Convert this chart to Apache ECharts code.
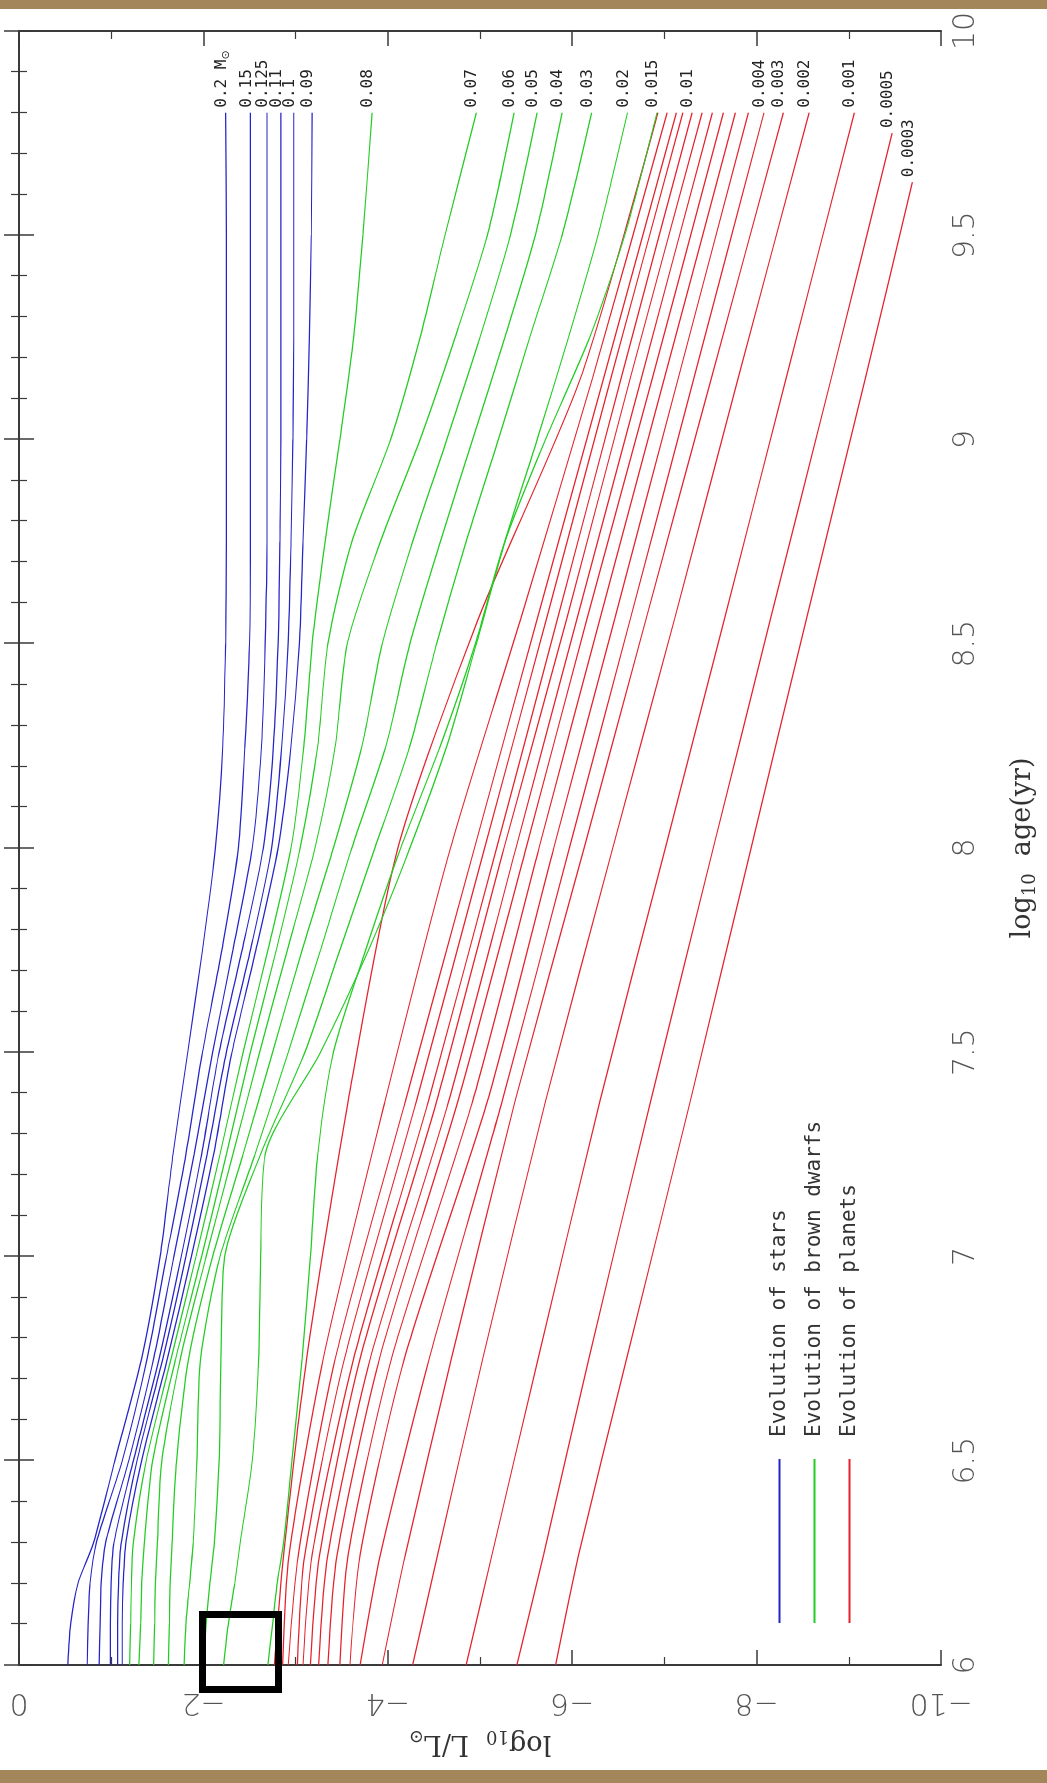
<!DOCTYPE html>
<html><head><meta charset="utf-8">
<script src="https://cdn.jsdelivr.net/npm/echarts@6/dist/echarts.min.js"></script>
<style>
html,body{margin:0;padding:0;width:1047px;height:1783px;overflow:hidden;background:#fff;}
#chart{position:absolute;left:0;top:0;width:1783px;height:1047px;transform-origin:0 0;transform:translateY(1783px) rotate(-90deg);}
.band{position:absolute;left:0;width:1047px;background:#a38659;}
#box{position:absolute;left:199px;top:1611px;width:83px;height:82px;border:7px solid #000;box-sizing:border-box;}
</style></head><body>
<div id="chart"></div>
<div class="band" style="top:0;height:9px"></div>
<div class="band" style="top:1770px;height:13px"></div>
<div id="box"></div>
<script>
// log10 age (yr) sample points shared by stars and brown dwarfs
const ages = [6.0,6.1,6.2,6.3,6.5,6.75,7.0,7.25,7.5,7.75,8.0,8.25,8.5,8.75,9.0,9.25,9.5,9.8];

// Stars (blue): log10 L/Lsun
const starLabels = ['0.2','0.15','0.125','0.11','0.1','0.09'];
const starL = [
  [-0.53,-0.56,-0.64,-0.81,-1.04,-1.33,-1.53,-1.67,-1.83,-1.99,-2.13,-2.21,-2.24,-2.25,-2.25,-2.25,-2.25,-2.24],
  [-0.74,-0.75,-0.77,-0.84,-1.12,-1.39,-1.6,-1.81,-1.99,-2.2,-2.38,-2.45,-2.5,-2.51,-2.51,-2.51,-2.51,-2.51],
  [-0.87,-0.88,-0.89,-0.94,-1.19,-1.46,-1.68,-1.9,-2.1,-2.32,-2.53,-2.63,-2.67,-2.69,-2.69,-2.69,-2.69,-2.69],
  [-0.99,-0.99,-1.0,-1.03,-1.24,-1.52,-1.76,-1.98,-2.17,-2.42,-2.65,-2.76,-2.81,-2.83,-2.84,-2.84,-2.84,-2.84],
  [-1.07,-1.07,-1.08,-1.11,-1.28,-1.56,-1.81,-2.04,-2.25,-2.51,-2.74,-2.85,-2.92,-2.95,-2.97,-2.98,-2.98,-2.98],
  [-1.12,-1.12,-1.13,-1.16,-1.33,-1.61,-1.87,-2.11,-2.31,-2.57,-2.81,-2.95,-3.04,-3.08,-3.12,-3.15,-3.17,-3.18]
];

// Brown dwarfs (green)
const dwarfLabels = ['0.08','0.07','0.06','0.05','0.04','0.03','0.02','0.015'];
const dwarfL = [
  [-1.2,-1.21,-1.22,-1.24,-1.38,-1.65,-1.92,-2.18,-2.43,-2.7,-2.95,-3.09,-3.18,-3.32,-3.48,-3.63,-3.73,-3.83],
  [-1.3,-1.32,-1.33,-1.36,-1.45,-1.7,-1.98,-2.25,-2.51,-2.79,-3.05,-3.24,-3.35,-3.61,-4.03,-4.35,-4.62,-4.96],
  [-1.46,-1.47,-1.48,-1.5,-1.55,-1.75,-2.03,-2.32,-2.61,-2.91,-3.21,-3.43,-3.56,-3.92,-4.35,-4.73,-5.08,-5.37],
  [-1.62,-1.63,-1.64,-1.66,-1.71,-1.84,-2.1,-2.43,-2.75,-3.07,-3.41,-3.72,-3.94,-4.27,-4.64,-5.0,-5.33,-5.62],
  [-1.79,-1.81,-1.85,-1.89,-1.93,-1.97,-2.18,-2.56,-2.92,-3.27,-3.61,-3.98,-4.24,-4.57,-4.92,-5.27,-5.6,-5.89],
  [-2.0,-2.03,-2.07,-2.12,-2.17,-2.19,-2.23,-2.62,-3.1,-3.48,-3.86,-4.24,-4.53,-4.85,-5.2,-5.54,-5.89,-6.21],
  [-2.22,-2.27,-2.34,-2.4,-2.53,-2.6,-2.62,-2.67,-3.27,-3.79,-4.24,-4.64,-4.96,-5.27,-5.62,-5.96,-6.28,-6.6],
  [-2.7,-2.75,-2.8,-2.87,-2.96,-3.07,-3.16,-3.24,-3.41,-3.76,-4.14,-4.57,-4.95,-5.27,-5.71,-6.19,-6.57,-6.92]
];

// Planets (red)
const planetAges = [6.0,6.27,6.75,7.38,8.0,8.56,9.15,9.8];
const planetEndAges = [9.8,9.8,9.8,9.8,9.8,9.8,9.8,9.8,9.8,9.8,9.8,9.8,9.8,9.8,9.75,9.63];
const planetLabels = ['','','','','0.01','','','','','','0.004','0.003','0.002','0.001','0.0005','0.0003'];
const planetL = [
  [-2.77,-2.87,-3.12,-3.57,-4.11,-4.98,-6.09,-6.93],
  [-2.86,-2.93,-3.3,-3.97,-4.68,-5.44,-6.22,-7.03],
  [-2.92,-3.03,-3.43,-4.19,-4.94,-5.62,-6.34,-7.13],
  [-3.02,-3.1,-3.53,-4.31,-5.05,-5.72,-6.42,-7.2],
  [-3.08,-3.18,-3.63,-4.44,-5.18,-5.84,-6.53,-7.3],
  [-3.16,-3.26,-3.7,-4.53,-5.26,-5.94,-6.63,-7.41],
  [-3.25,-3.35,-3.81,-4.66,-5.39,-6.05,-6.75,-7.52],
  [-3.35,-3.45,-3.91,-4.76,-5.5,-6.16,-6.87,-7.64],
  [-3.48,-3.57,-4.04,-4.92,-5.64,-6.3,-7.0,-7.77],
  [-3.59,-3.7,-4.18,-5.08,-5.8,-6.46,-7.15,-7.91],
  [-3.7,-3.92,-4.45,-5.24,-5.97,-6.63,-7.32,-8.08],
  [-3.94,-4.19,-4.69,-5.38,-6.13,-6.8,-7.51,-8.29],
  [-4.27,-4.54,-5.03,-5.71,-6.44,-7.11,-7.8,-8.57],
  [-4.85,-5.13,-5.63,-6.3,-7.01,-7.65,-8.32,-9.06],
  [-5.4,-5.69,-6.18,-6.85,-7.53,-8.15,-8.81,-9.47],
  [-5.82,-6.07,-6.59,-7.28,-7.94,-8.54,-9.18,-9.69]
];

const legendNames = ['Evolution of stars','Evolution of brown dwarfs','Evolution of planets'];
const colors = ['#2424c8','#22cc22','#e5222c'];

const labelFont = {fontFamily:'DejaVu Sans Mono', fontSize:16, color:'#222'};

function makeSeries(name, color, xs, ys, label, isFirstStar, smooth){
  const data = xs.map((a,i)=>[a, ys[i]]);
  return {
    type:'line', name:name, data:data, symbol:'none', showSymbol:false, smooth:smooth,
    lineStyle:{color:color, width:1.2}, itemStyle:{color:color},
    z: 3,
    endLabel:{
      show: label !== '',
      formatter: isFirstStar ? label + ' {m|M}{s|⊙}' : label,
      distance:5, offset:[0,-4],
      ...labelFont,
      rich:{ m:{fontFamily:'DejaVu Sans Mono', fontSize:16, color:'#222'},
             s:{fontFamily:'DejaVu Sans', fontSize:11, color:'#222', padding:[9,0,0,0]} }
    }
  };
}

const series = [];
planetL.forEach((ys,k)=>{
  const xs = planetAges.slice(0, planetAges.length-1).concat([planetEndAges[k]]);
  series.push(makeSeries(legendNames[2], colors[2], xs, ys, planetLabels[k], false, 0.25));
});
dwarfL.forEach((ys,k)=>series.push(makeSeries(legendNames[1], colors[1], ages, ys, dwarfLabels[k], false, 0.25)));
starL.forEach((ys,k)=>series.push(makeSeries(legendNames[0], colors[0], ages, ys, starLabels[k], k===0, 0.25)));

const axisCol = '#3a3a3a';
const tickCommon = {
  axisLine:{show:true, lineStyle:{color:axisCol, width:2}},
  axisTick:{show:true, inside:true, length:15, lineStyle:{color:axisCol, width:1.5}},
  splitLine:{show:false}
};
const tickFont = {fontFamily:'DejaVu Sans', fontWeight:200, fontSize:30, color:'#555'};
const titleRich = {
  a:{fontFamily:'DejaVu Serif', fontSize:27, color:'#333'},
  b:{fontFamily:'DejaVu Serif', fontSize:18, color:'#333', padding:[14,0,0,0]}
};

const chart = echarts.init(document.getElementById('chart'), null, {width:1783, height:1047});
chart.setOption({
  animation:false,
  backgroundColor:'#ffffff',
  grid:{left:118, right:31, top:19, bottom:106, containLabel:false},
  legend:{
    data:legendNames, orient:'vertical', left:159, top:769, padding:0,
    itemWidth:164, itemHeight:14, itemGap:14, selectedMode:false,
    itemStyle:{opacity:0},
    textStyle:{fontFamily:'DejaVu Sans Mono', fontSize:21, color:'#333', padding:[0,0,0,17]}
  },
  xAxis:[
    Object.assign({type:'value', min:6, max:10, interval:0.5, position:'bottom',
      minorTick:{show:true, splitNumber:5, length:8, lineStyle:{color:axisCol, width:1.2}},
      axisLabel:Object.assign({margin:10, formatter:v=> (Math.abs(v-Math.round(v))<1e-9 ? String(Math.round(v)) : v.toFixed(1))}, tickFont),
      name:'{a|log}{b|10}{a|  age(yr)}', nameLocation:'middle', nameGap:66,
      nameTextStyle:{rich:titleRich}
    }, tickCommon),
    Object.assign({type:'value', min:6, max:10, interval:0.5, position:'top',
      minorTick:{show:true, splitNumber:5, length:8, lineStyle:{color:axisCol, width:1.2}},
      axisLabel:{show:false}}, tickCommon)
  ],
  yAxis:[
    Object.assign({type:'value', min:-10, max:0, interval:2, position:'left',
      minorTick:{show:true, splitNumber:2, length:8, lineStyle:{color:axisCol, width:1.2}},
      axisLabel:Object.assign({rotate:90, margin:22, formatter:v=> v===0 ? '0' : '\u2212' + Math.abs(v)}, tickFont),
      name:'{a|log}{b|10}{a|  L/L}{b|\u2299}', nameLocation:'middle', nameGap:62, nameRotate:90,
      nameTextStyle:{rich:titleRich}
    }, tickCommon),
    Object.assign({type:'value', min:-10, max:0, interval:2, position:'right',
      minorTick:{show:true, splitNumber:2, length:8, lineStyle:{color:axisCol, width:1.2}},
      axisLabel:{show:false}}, tickCommon)
  ],
  series:series
});
</script>
</body></html>
